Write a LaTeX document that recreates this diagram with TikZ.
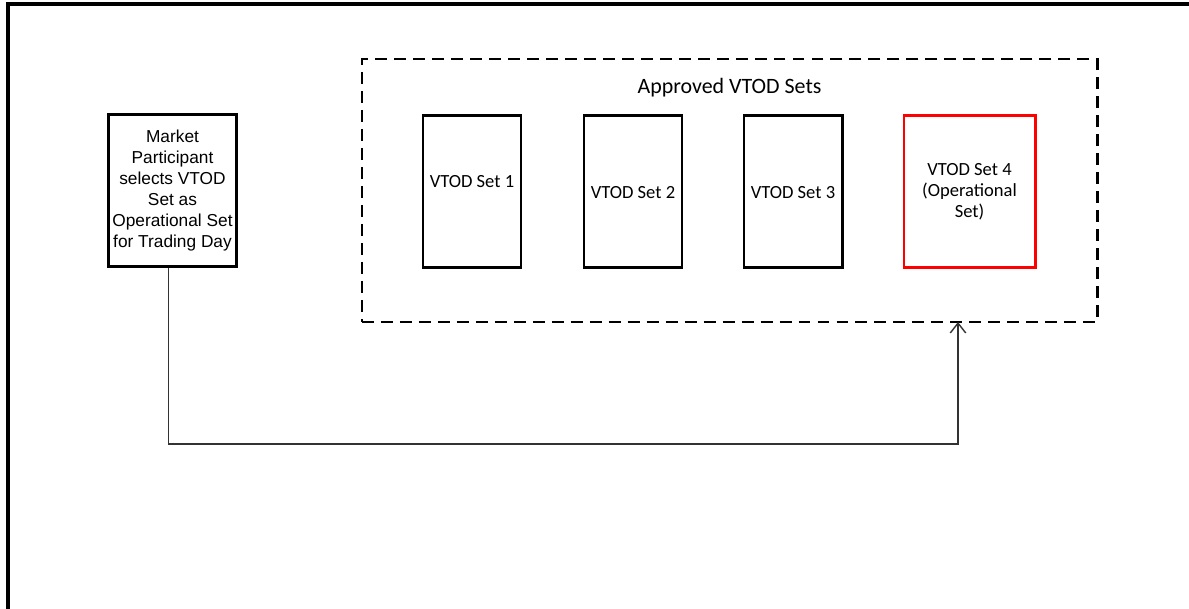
\documentclass[tikz,border=0pt]{standalone}
\usepackage{fontspec}
\setmainfont{Carlito}
\newfontfamily\mpfont{Liberation Sans}
\usetikzlibrary{arrows.meta}

\begin{document}
\begin{tikzpicture}[x=0.025cm,y=-0.025cm,
  box/.style={draw,line width=2.1pt,minimum width=2.45cm,minimum height=3.82cm,inner sep=0pt},
  settext/.style={font=\fontsize{13.2}{14.9}\selectfont,align=center},
  link/.style={draw=black!80,line width=1pt,-{Straight Barb[length=7pt,width=11pt]}}]
  \useasboundingbox (0,0) rectangle (1189,609);
  \draw[line width=2.2pt] (1189,4) -- (8,4) -- (8,609);
  \node[draw,line width=2pt,dash pattern=on 8.5pt off 5pt,minimum width=18.375cm,minimum height=6.575cm] (approved) at (729.5,190.5) {};
  \node[font=\fontsize{15.6}{18}\selectfont] (approvedtitle) at (729.5,88) {Approved VTOD Sets};
  \node[box,minimum width=3.2cm,minimum height=3.8cm,align=center,font={\fontsize{12.3}{14.9}\mpfont}] (mp) at (172.5,190.5)
    {Market\\Participant\\selects VTOD\\Set as\\Operational Set\\for Trading Day};
  \foreach \i/\x/\ty in {1/472/182,2/633/193,3/793/193} {
    \node[box] (set\i) at (\x,191.5) {};
    \node[settext] (settext\i) at (\x,\ty) {VTOD Set \i};
  }
  \node[box,draw=red,minimum width=3.275cm,settext] (set4) at (969.5,191.5) {VTOD Set 4\\(Operational\\Set)};
  \coordinate (hit) at (958,322);
  \draw[link] ([xshift=-3pt]mp.south) -- ++(0,176) -| (hit);
\end{tikzpicture}
\end{document}
